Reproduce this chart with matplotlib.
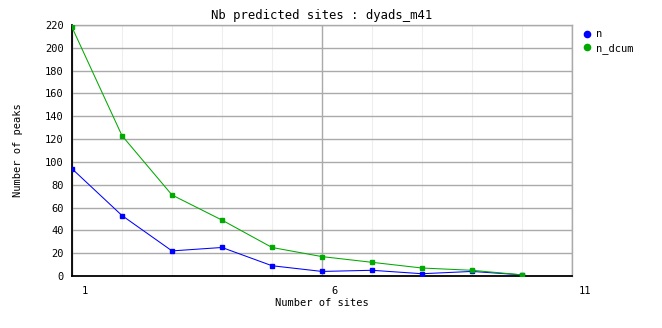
import numpy as np
import matplotlib.pyplot as plt
import matplotlib.transforms as mtransforms
from matplotlib.lines import Line2D

# data
sites = [1, 2, 3, 4, 5, 6, 7, 8, 9, 10]
n = [94, 53, 22, 25, 9, 4, 5, 2, 4, 1]
n_dcum = [218, 123, 71, 49, 25, 17, 12, 7, 5, 1]

x_ticks = [1, 6, 11]
y_ticks = list(range(0, 221, 20))

plt.rcParams['font.family'] = 'DejaVu Sans Mono'

W, H = 662, 328
fig = plt.figure(figsize=(W / 100, H / 100), dpi=100)
ax = fig.add_axes([72 / W, (H - 276) / H, 500 / W, 251 / H])

ax.set_xlim(1, 11)
ax.set_ylim(0, 220)

# grid: light minor verticals, gray majors
ax.set_xticks(x_ticks)
ax.set_yticks(y_ticks)
for xv in sites:
    ax.axvline(xv, color='#eeeeee', lw=0.8, zorder=0)
ax.grid(True, which='major', axis='x', color='#aaaaaa', lw=1, zorder=1)
ax.grid(True, which='major', axis='y', color='#aaaaaa', lw=1, zorder=1)
ax.set_axisbelow(True)

ax.plot(sites, n, color='#0000ff', lw=0.75, marker='s', ms=2.6, zorder=3)
ax.plot(sites, n_dcum, color='#00aa00', lw=0.75, marker='s', ms=2.6, zorder=3)

for s in ['top', 'right']:
    ax.spines[s].set_color('#aaaaaa')
    ax.spines[s].set_linewidth(1)
for s in ['left', 'bottom']:
    ax.spines[s].set_color('black')
    ax.spines[s].set_linewidth(1.3)

ax.tick_params(which='both', length=0, labelsize=7.5)
ax.tick_params(axis='y', pad=6)
ax.tick_params(axis='x', pad=7)
offset = mtransforms.ScaledTranslation(13 / 100, 0, fig.dpi_scale_trans)
for lab in ax.get_xticklabels():
    lab.set_transform(lab.get_transform() + offset)

fig.text(322 / W, 1 - 16 / H, 'Nb predicted sites : dyads_m41', ha='center',
         va='center', fontsize=8.8)
fig.text(322 / W, 1 - 303 / H, 'Number of sites', ha='center', va='center',
         fontsize=7.5)
fig.text(18 / W, 1 - 150 / H, 'Number of peaks', ha='center', va='center',
         rotation=90, fontsize=7.5)

handles = [Line2D([], [], ls='none', marker='o', ms=4.5, color='#0000ff'),
           Line2D([], [], ls='none', marker='o', ms=4.5, color='#00aa00')]
fig.legend(handles, ['n', 'n_dcum'], loc='upper left',
           bbox_to_anchor=(577 / W, 1 - 24 / H), frameon=False,
           fontsize=7.5, handlelength=1, handletextpad=0.3,
           labelspacing=0.35, borderpad=0)

fig.savefig('out.png', dpi=100)
